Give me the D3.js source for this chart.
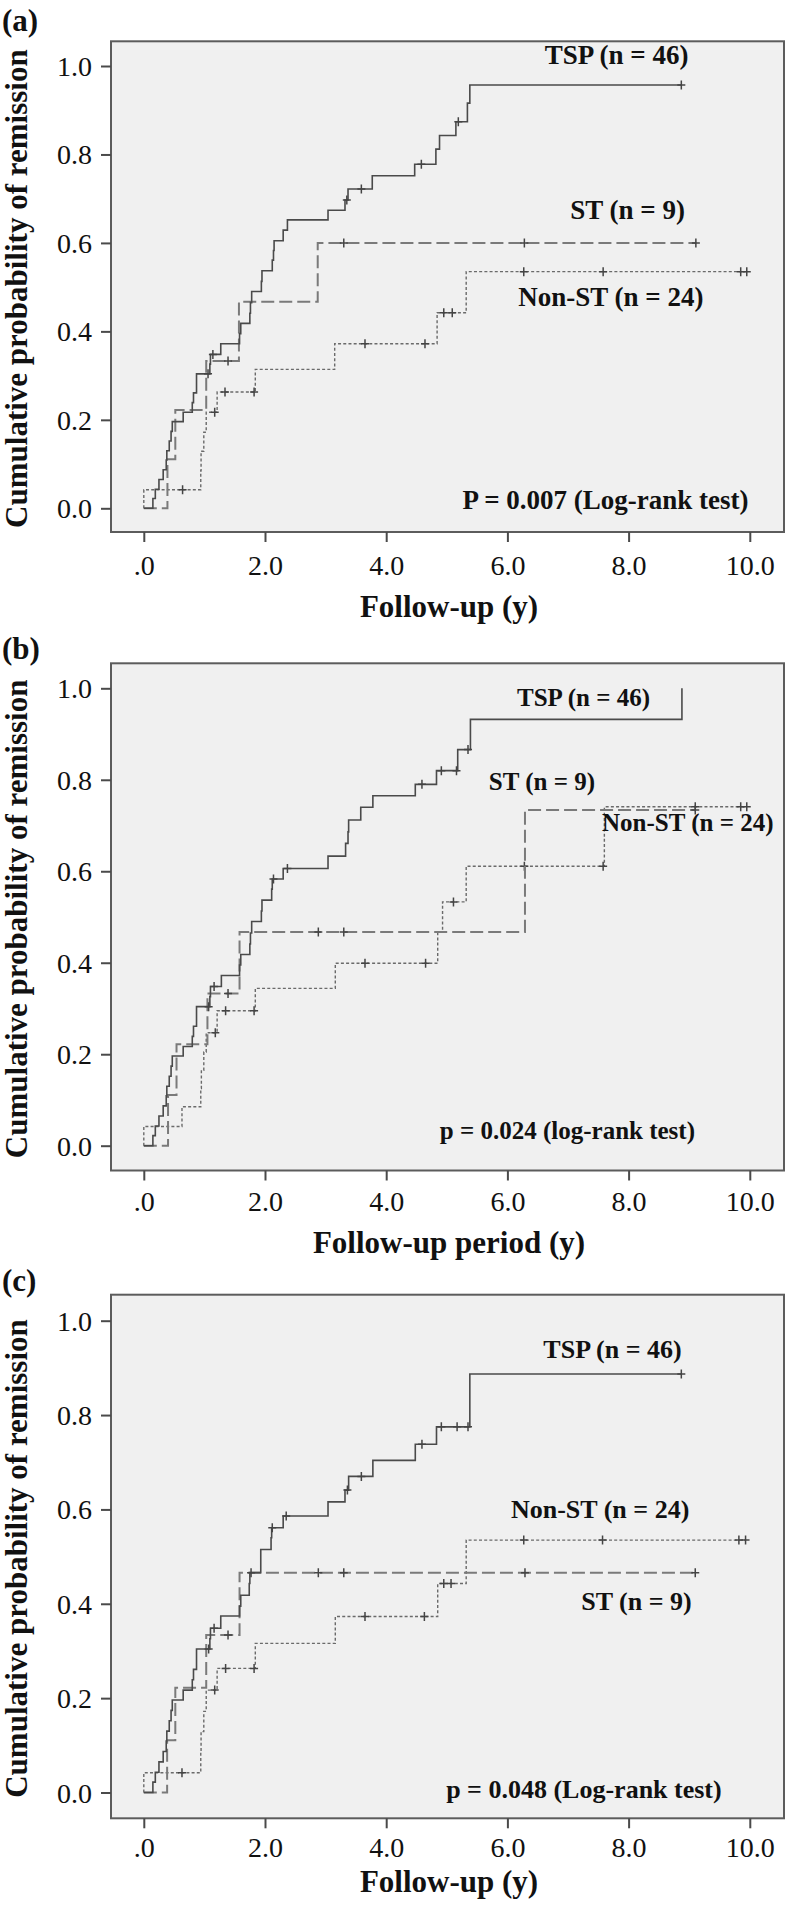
<!DOCTYPE html>
<html><head><meta charset="utf-8">
<script src="https://cdn.jsdelivr.net/npm/d3@7"></script>
<style>body{margin:0;background:#fff}svg{display:block}</style>
</head><body>
<svg id="chart" width="786" height="1909"></svg>
<script>
// ---------- axis ticks ----------
const xTicks = [0, 2, 4, 6, 8, 10];
const xTickLabels = [".0", "2.0", "4.0", "6.0", "8.0", "10.0"];
const yTicks = [0, 0.2, 0.4, 0.6, 0.8, 1.0];
const yTickLabels = ["0.0", "0.2", "0.4", "0.6", "0.8", "1.0"];

// ---------- panel (a) ----------
const aTspTime = [0.15,0.19,0.25,0.32,0.37,0.38,0.42,0.45,0.47,0.65,0.80,0.82,0.87,1.09,1.10,1.27,1.58,1.60,1.75,1.76,1.78,1.94,1.95,2.12,2.14,2.15,2.30,2.37,3.04,3.32,3.37,3.77,4.47,4.82,4.88,5.15,5.34,5.38];
const aTspProb = [0.022,0.043,0.065,0.087,0.109,0.130,0.152,0.174,0.196,0.217,0.239,0.261,0.304,0.326,0.348,0.372,0.395,0.418,0.441,0.465,0.490,0.513,0.537,0.561,0.583,0.605,0.629,0.652,0.674,0.697,0.722,0.752,0.778,0.812,0.843,0.874,0.916,0.957];
const aTspCens = [1.06,1.14,3.35,3.59,4.58,5.19,8.87];
const aStTime = [0.39,0.52,1.03,1.57,2.87];
const aStProb = [0.111,0.222,0.333,0.467,0.600];
const aStCens = [1.39,3.30,6.28,9.11];
const aNonTime = [0,0.94,0.945,0.99,1.03,1.21,1.84,3.15,4.84,5.32];
const aNonProb = [0.042,0.085,0.129,0.172,0.217,0.263,0.314,0.372,0.442,0.535];
const aNonCens = [0.64,1.17,1.34,1.82,3.65,4.64,4.95,5.09,6.27,7.58,9.85,9.95];

// ---------- panel (b) ----------
const bTspTime = [0.15,0.19,0.25,0.32,0.37,0.38,0.42,0.45,0.47,0.65,0.80,0.82,0.87,1.09,1.10,1.28,1.58,1.60,1.75,1.76,1.78,1.94,1.95,2.11,2.12,2.30,3.04,3.33,3.37,3.38,3.58,3.78,4.48,4.83,5.18,5.39,8.88];
const bTspProb = [0.022,0.043,0.065,0.087,0.109,0.130,0.152,0.174,0.196,0.217,0.239,0.261,0.304,0.326,0.348,0.372,0.395,0.418,0.441,0.465,0.490,0.513,0.537,0.561,0.583,0.606,0.633,0.661,0.686,0.712,0.740,0.765,0.790,0.820,0.866,0.932,1.0];
const bTspCens = [1.07,1.16,2.14,2.37,4.59,4.91,5.16,5.35];
const bStTime = [0.40,0.54,1.05,1.58,6.29];
const bStProb = [0.111,0.222,0.333,0.467,0.734];
const bStCens = [1.39,2.88,3.30,9.10];
const bNonTime = [0,0.63,0.94,0.95,0.99,1.03,1.21,1.84,3.16,4.85,4.93,5.32,7.60];
const bNonProb = [0.042,0.085,0.125,0.165,0.205,0.247,0.295,0.344,0.399,0.468,0.533,0.611,0.741];
const bNonCens = [1.18,1.35,1.82,3.65,4.65,5.11,6.28,7.58,9.10,9.85,9.95];

// ---------- panel (c) ----------
const cTspTime = [0.15,0.19,0.25,0.32,0.37,0.38,0.42,0.45,0.47,0.65,0.80,0.82,0.87,1.09,1.10,1.27,1.58,1.60,1.74,1.75,1.93,2.10,2.11,2.30,3.04,3.32,3.38,3.78,4.48,4.83,5.38];
const cTspProb = [0.022,0.043,0.065,0.087,0.109,0.130,0.152,0.174,0.196,0.217,0.239,0.261,0.304,0.326,0.348,0.374,0.395,0.418,0.443,0.466,0.515,0.540,0.561,0.586,0.616,0.641,0.670,0.704,0.738,0.775,0.887];
const cTspCens = [1.07,1.16,1.77,2.12,2.35,3.36,3.59,4.59,4.91,5.17,5.35,8.87];
const cStTime = [0.385,0.52,1.03,1.58];
const cStProb = [0.111,0.222,0.334,0.466];
const cStCens = [1.39,2.88,3.30,6.29,9.10];
const cNonTime = [0,0.94,0.945,0.99,1.03,1.21,1.84,3.16,4.85,5.32];
const cNonProb = [0.042,0.085,0.129,0.172,0.217,0.263,0.316,0.373,0.443,0.535];
const cNonCens = [0.63,1.17,1.35,1.82,3.65,4.63,4.95,5.07,6.27,7.57,9.82,9.93];

// ---------- texts ----------
const panelLabels = ["(a)", "(b)", "(c)"];
const xTitles = ["Follow-up (y)", "Follow-up period (y)", "Follow-up (y)"];
const yTitle = "Cumulative probability of remission";
const groupLabels = ["TSP (n = 46)", "ST (n = 9)", "Non-ST (n = 24)"];
const pLabels = ["P = 0.007 (Log-rank test)", "p = 0.024 (log-rank test)", "p = 0.048 (Log-rank test)"];

// ---------- layout (not data) ----------
const FONT = "'Liberation Serif','Times New Roman',Times,serif";
const BOX_L = 111, BOX_R = 784;
const layout = [
  {top: 41.3, bottom: 532, y0: 508.3, y1: 66, labelY: 31, tickLabY: 42.5, titleY: 617, annFont: 27,
   ann: [[688.5, 64], [685, 218.5], [703.5, 306], [748.5, 509]],
   tsp: [aTspTime, aTspProb, aTspCens], st: [aStTime, aStProb, aStCens], non: [aNonTime, aNonProb, aNonCens]},
  {top: 663.3, bottom: 1170.5, y0: 1145.7, y1: 688.3, labelY: 659, tickLabY: 40.5, titleY: 1253, annFont: 25,
   ann: [[650, 705.7], [595, 790], [773.5, 830.7], [695, 1139]],
   tsp: [bTspTime, bTspProb, bTspCens], st: [bStTime, bStProb, bStCens], non: [bNonTime, bNonProb, bNonCens]},
  {top: 1294.7, bottom: 1818.3, y0: 1792.5, y1: 1320.7, labelY: 1291, tickLabY: 38.5, titleY: 1892, annFont: 26,
   ann: [[681.7, 1358.3], [691.7, 1610], [689.3, 1517.7], [721.7, 1798.3]],
   tsp: [cTspTime, cTspProb, cTspCens], st: [cStTime, cStProb, cStCens], non: [cNonTime, cNonProb, cNonCens]}
];

const styles = {
  tsp: {stroke: "#4a4a4a", width: 1.6, dash: null},
  st:  {stroke: "#7a7a7a", width: 2.0, dash: "13,5"},
  non: {stroke: "#6a6a6a", width: 1.4, dash: "3,2.2"}
};

const svg = d3.select("#chart");
const x = d3.scaleLinear().domain([0, 10]).range([143.8, 749.8]);

function stepValue(times, probs, t) {
  let v = 0;
  for (let i = 0; i < times.length; i++) if (times[i] <= t) v = probs[i];
  return v;
}

layout.forEach((p, pi) => {
  const y = d3.scaleLinear().domain([0, 1]).range([p.y0, p.y1]);
  const g = svg.append("g");

  // plot box
  g.append("rect").attr("x", BOX_L).attr("y", p.top)
    .attr("width", BOX_R - BOX_L).attr("height", p.bottom - p.top)
    .attr("fill", "#f0f0f0").attr("stroke", "#5c5c5c").attr("stroke-width", 2);

  // x axis
  const xa = g.append("g").attr("transform", `translate(0,${p.bottom})`)
    .call(d3.axisBottom(x).tickValues(xTicks).tickFormat((d, i) => xTickLabels[i]).tickSize(10));
  xa.select(".domain").remove();
  xa.selectAll(".tick line").attr("stroke", "#4a4a4a").attr("stroke-width", 2);
  xa.selectAll(".tick text").attr("y", p.tickLabY).attr("dy", null)
    .attr("font-family", FONT).attr("font-size", 28).attr("fill", "#111");

  // y axis
  const ya = g.append("g").attr("transform", `translate(${BOX_L},0)`)
    .call(d3.axisLeft(y).tickValues(yTicks).tickFormat((d, i) => yTickLabels[i]).tickSize(10).tickPadding(9));
  ya.select(".domain").remove();
  ya.selectAll(".tick line").attr("stroke", "#4a4a4a").attr("stroke-width", 2);
  ya.selectAll(".tick text").attr("dy", "0.34em")
    .attr("font-family", FONT).attr("font-size", 28).attr("fill", "#111");

  // curves
  const line = d3.line().curve(d3.curveStepAfter).x(d => x(d[0])).y(d => y(d[1]));
  ["non", "st", "tsp"].forEach(key => {
    const [times, probs, cens] = p[key];
    const st = styles[key];
    const pts = [[0, 0]];
    times.forEach((t, i) => pts.push([t, probs[i]]));
    const end = Math.max(d3.max(cens), d3.max(times));
    const last = probs[probs.length - 1];
    if (end > d3.max(times)) pts.push([end, last]);
    g.append("path").attr("d", line(pts)).attr("fill", "none")
      .attr("stroke", st.stroke).attr("stroke-width", st.width)
      .attr("stroke-dasharray", st.dash);
    // censor marks
    g.selectAll(null).data(cens).enter().append("path")
      .attr("d", t => {
        const cx = x(t), cy = y(stepValue(times, probs, t));
        return `M${cx - 4},${cy}h8M${cx},${cy - 4.5}v9`;
      })
      .attr("stroke", "#444").attr("stroke-width", 1.5).attr("fill", "none");
  });

  // annotations
  const annTexts = [groupLabels[0], groupLabels[1], groupLabels[2], pLabels[pi]];
  annTexts.forEach((txt, i) => {
    g.append("text").attr("x", p.ann[i][0]).attr("y", p.ann[i][1])
      .attr("text-anchor", "end").attr("font-family", FONT).attr("font-weight", "bold")
      .attr("font-size", p.annFont).attr("fill", "#111").text(txt);
  });

  // panel label
  g.append("text").attr("x", 2).attr("y", p.labelY).attr("font-family", FONT)
    .attr("font-weight", "bold").attr("font-size", 31).attr("fill", "#111").text(panelLabels[pi]);

  // x title
  g.append("text").attr("x", 449).attr("y", p.titleY).attr("text-anchor", "middle")
    .attr("font-family", FONT).attr("font-weight", "bold").attr("font-size", 31)
    .attr("fill", "#111").text(xTitles[pi]);

  // y title
  const cy = (p.top + p.bottom) / 2 + 2;
  g.append("text").attr("transform", `translate(27,${cy}) rotate(-90)`)
    .attr("text-anchor", "middle").attr("font-family", FONT).attr("font-weight", "bold")
    .attr("font-size", 31).attr("fill", "#111").text(yTitle);
});
</script>
</body></html>
